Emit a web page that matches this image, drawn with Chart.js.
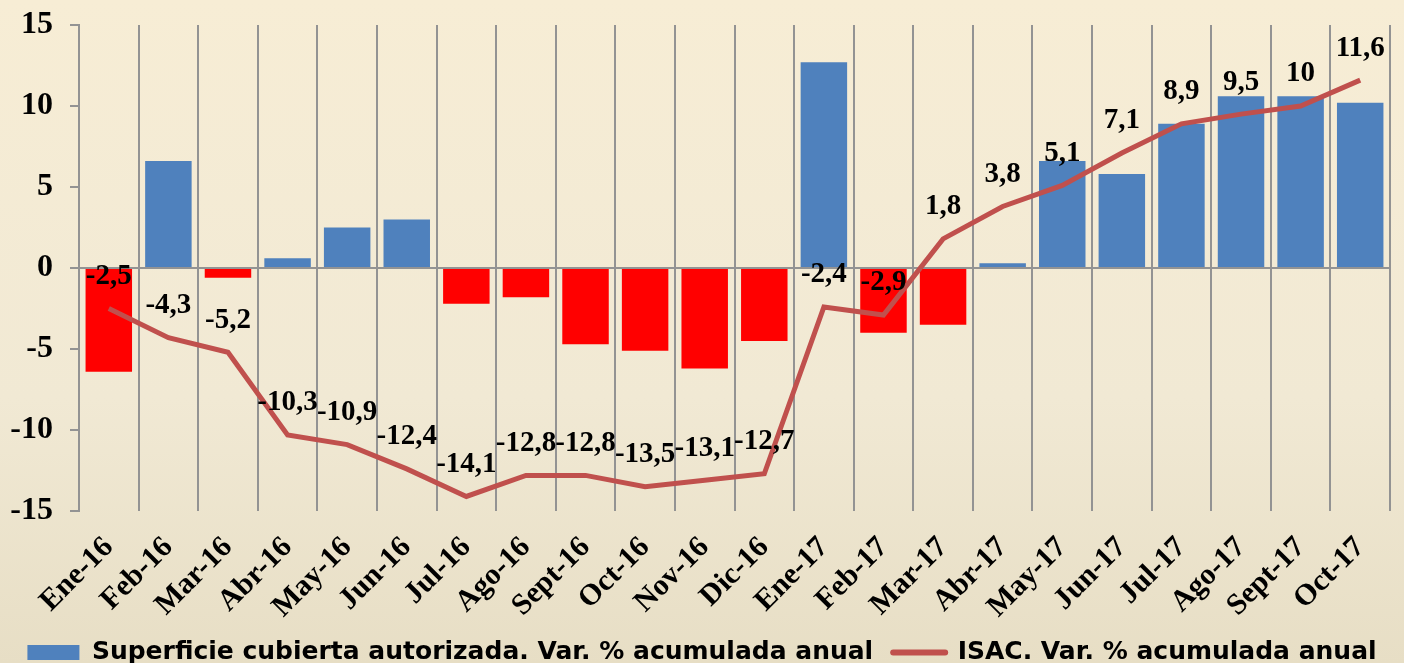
<!DOCTYPE html>
<html>
<head>
<meta charset="utf-8">
<script src="https://cdn.jsdelivr.net/npm/chart.js@4.4.1/dist/chart.umd.min.js"></script>
<style>
  html, body { margin: 0; padding: 0; }
  body {
    width: 1404px; height: 663px; overflow: hidden;
    background: linear-gradient(to bottom, #f7edd5 0%, #f1e9d4 60%, #e7dec5 100%);
  }
  #wrap { position: relative; width: 1404px; height: 663px; }
</style>
</head>
<body>
<div id="wrap"><canvas id="chart"></canvas></div>
<script>
// ---- data ----
const months = [
  "Ene-16", "Feb-16", "Mar-16", "Abr-16", "May-16", "Jun-16", "Jul-16", "Ago-16",
  "Sept-16", "Oct-16", "Nov-16", "Dic-16", "Ene-17", "Feb-17", "Mar-17", "Abr-17",
  "May-17", "Jun-17", "Jul-17", "Ago-17", "Sept-17", "Oct-17"
];
const superficie = [
  -6.4, 6.6, -0.6, 0.6, 2.5, 3.0, -2.2, -1.8, -4.7, -5.1, -6.2, -4.5,
  12.7, -4.0, -3.5, 0.3, 6.6, 5.8, 8.9, 10.6, 10.6, 10.2
];
const isac = [
  -2.5, -4.3, -5.2, -10.3, -10.9, -12.4, -14.1, -12.8, -12.8, -13.5, -13.1, -12.7,
  -2.4, -2.9, 1.8, 3.8, 5.1, 7.1, 8.9, 9.5, 10, 11.6
];
const seriesNames = [
  "Superficie cubierta autorizada. Var. % acumulada anual",
  "ISAC. Var. % acumulada anual"
];
const yTicks = [-15, -10, -5, 0, 5, 10, 15];

// ---- styles ----
const BLUE = "#4f81bd";
const RED = "#ff0000";
const LINE = "#c0504d";
const GRID = "#939393";
const SERIF = '"Liberation Serif", "Times New Roman", serif';

function fmt(v) {
  return String(v).replace(".", ",");
}

// value labels above the line points
const valueLabels = {
  id: "valueLabels",
  afterDatasetsDraw(chart) {
    const meta = chart.getDatasetMeta(1);
    const c = chart.ctx;
    c.save();
    c.font = "bold 29px " + SERIF;
    c.fillStyle = "#000";
    c.textAlign = "center";
    c.textBaseline = "middle";
    meta.data.forEach((pt, i) => {
      c.fillText(fmt(isac[i]), pt.x, pt.y - 32);
    });
    c.restore();
  },
};

new Chart(document.getElementById("chart"), {
  type: "bar",
  data: {
    labels: months,
    datasets: [
      {
        label: seriesNames[0],
        data: superficie,
        backgroundColor: superficie.map((v) => (v >= 0 ? BLUE : RED)),
        borderWidth: 0,
        categoryPercentage: 1,
        barPercentage: 0.78,
        order: 2,
      },
      {
        label: seriesNames[1],
        type: "line",
        data: isac,
        borderColor: LINE,
        borderWidth: 5,
        pointRadius: 0,
        tension: 0,
        fill: false,
        order: 1,
      },
    ],
  },
  options: {
    responsive: true,
    maintainAspectRatio: false,
    animation: false,
    layout: { padding: { left: 0, right: 0, top: 0, bottom: -12 } },
    plugins: {
      tooltip: { enabled: false },
      legend: {
        position: "bottom",
        labels: {
          usePointStyle: true,
          pointStyleWidth: 52,
          boxHeight: 15,
          padding: 20,
          color: "#000",
          font: { family: '"DejaVu Sans", Verdana, sans-serif', size: 25, weight: "bold" },
          generateLabels: () => [
            { text: seriesNames[0], fillStyle: BLUE, strokeStyle: BLUE, lineWidth: 0, pointStyle: "rect", datasetIndex: 0 },
            { text: seriesNames[1], fillStyle: LINE, strokeStyle: LINE, lineWidth: 6, lineCap: "round", pointStyle: "line", datasetIndex: 1 },
          ],
        },
      },
    },
    scales: {
      x: {
        afterFit: (axis) => {
          axis.height -= 24;
          axis.paddingLeft = 0;
          axis.paddingRight = 14;
        },
        grid: { color: GRID, lineWidth: 2, drawTicks: false, offset: true },
        border: { display: false },
        ticks: {
          color: "#000",
          minRotation: 45,
          maxRotation: 45,
          padding: 19,
          font: { family: SERIF, size: 30, weight: "bold" },
        },
      },
      y: {
        min: -15,
        max: 15,
        afterBuildTicks: (axis) => {
          axis.ticks = yTicks.map((v) => ({ value: v }));
        },
        afterFit: (axis) => {
          axis.width = 79;
          axis.paddingTop = 25;
          axis.paddingBottom = 0;
        },
        grid: {
          color: (ctx) => (ctx.tick && ctx.tick.value === 0 ? GRID : "transparent"),
          lineWidth: 2,
          tickColor: GRID,
          tickLength: 9,
        },
        border: { display: true, color: GRID, width: 2 },
        ticks: {
          color: "#000",
          padding: 17,
          font: { family: SERIF, size: 32, weight: "bold" },
          callback: (v) => String(v),
        },
      },
    },
  },
  plugins: [valueLabels],
});
</script>
</body>
</html>
